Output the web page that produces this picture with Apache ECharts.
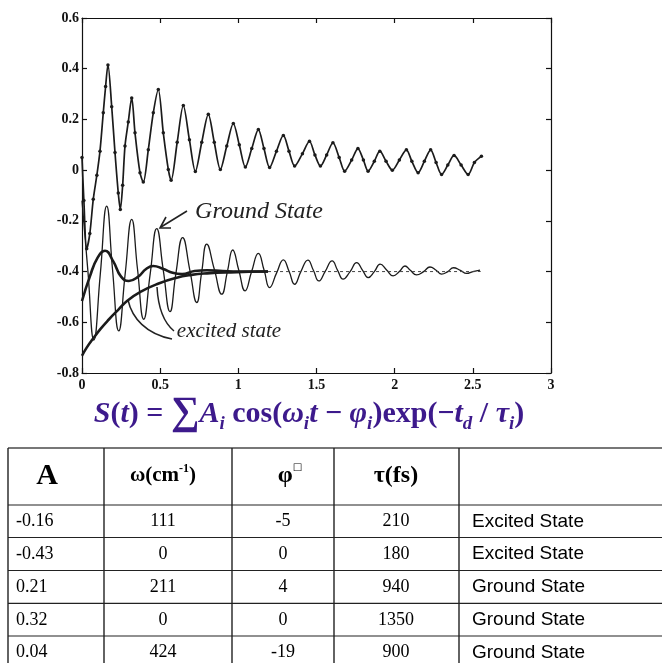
<!DOCTYPE html>
<html><head><meta charset="utf-8">
<script src="https://cdn.jsdelivr.net/npm/echarts@6/dist/echarts.min.js"></script>
<style>html,body{margin:0;padding:0;background:#fff}#c{width:662px;height:663px}</style>
</head><body><div id="c"></div>
<script>
// ---- tick labels ----
const xTickLabels = ['0', '0.5', '1', '1.5', '2', '2.5', '3'];
const yTickLabels = ['-0.8', '-0.6', '-0.4', '-0.2', '0', '0.2', '0.4', '0.6'];

// ---- measured signal (time in ps) ----
const measT = [0, 0.012, 0.03, 0.05, 0.072, 0.095, 0.115, 0.136, 0.151, 0.166,
  0.19, 0.211, 0.232, 0.245, 0.26, 0.275, 0.296, 0.318, 0.339, 0.371, 0.392,
  0.424, 0.456, 0.488, 0.52, 0.552, 0.57, 0.609, 0.648, 0.687, 0.725,
  0.766, 0.808, 0.846, 0.885, 0.926, 0.968, 1.006, 1.045, 1.086, 1.128,
  1.164, 1.2, 1.244, 1.288, 1.324, 1.36, 1.41, 1.455, 1.49, 1.525,
  1.565, 1.605, 1.645, 1.68, 1.725, 1.765, 1.8, 1.83, 1.87, 1.905,
  1.945, 1.985, 2.03, 2.075, 2.11, 2.15, 2.19, 2.23, 2.265, 2.3,
  2.34, 2.38, 2.425, 2.47, 2.51, 2.555];
const measY = [0.05, -0.12, -0.31, -0.25, -0.115, -0.02, 0.075, 0.226, 0.33, 0.415,
  0.25, 0.07, -0.09, -0.155, -0.06, 0.095, 0.19, 0.285, 0.147, -0.01, -0.047,
  0.08, 0.226, 0.318, 0.147, 0.003, -0.04, 0.11, 0.255, 0.12, -0.005,
  0.11, 0.22, 0.11, 0.003, 0.095, 0.184, 0.1, 0.012, 0.085, 0.16,
  0.085, 0.01, 0.075, 0.137, 0.075, 0.016, 0.065, 0.114, 0.06, 0.016,
  0.06, 0.108, 0.05, -0.004, 0.04, 0.085, 0.04, -0.004, 0.035, 0.075,
  0.035, 0.0, 0.04, 0.08, 0.035, -0.01, 0.035, 0.08, 0.03, -0.017,
  0.02, 0.058, 0.02, -0.017, 0.03, 0.055];

// ---- ground state fit component ----
const groundT = [0, 0.038, 0.076, 0.117, 0.158, 0.195, 0.235, 0.276, 0.318, 0.355,
  0.395, 0.436, 0.478, 0.52, 0.563, 0.6, 0.644, 0.69, 0.734, 0.765,
  0.798, 0.846, 0.894, 0.93, 0.964, 1.003, 1.043, 1.085, 1.128, 1.165,
  1.2, 1.245, 1.288, 1.325, 1.36, 1.4, 1.445, 1.48, 1.515, 1.555,
  1.6, 1.635, 1.67, 1.715, 1.757, 1.795, 1.83, 1.87, 1.907, 1.95,
  1.99, 2.03, 2.066, 2.1, 2.14, 2.185, 2.226, 2.265, 2.3, 2.34,
  2.376, 2.42, 2.46, 2.5, 2.546];
const groundY = [-0.12, -0.4, -0.67, -0.41, -0.142, -0.39, -0.634, -0.41, -0.194, -0.39,
  -0.588, -0.41, -0.231, -0.395, -0.558, -0.41, -0.266, -0.395, -0.522, -0.405,
  -0.292, -0.39, -0.489, -0.4, -0.315, -0.395, -0.476, -0.4, -0.328, -0.395,
  -0.463, -0.405, -0.354, -0.4, -0.45, -0.4, -0.355, -0.395, -0.437, -0.4,
  -0.358, -0.395, -0.43, -0.4, -0.365, -0.395, -0.424, -0.4, -0.371, -0.395,
  -0.417, -0.4, -0.378, -0.395, -0.413, -0.4, -0.382, -0.395, -0.41, -0.4,
  -0.385, -0.395, -0.407, -0.4, -0.394];

// ---- excited state oscillating component ----
const excOscT = [0, 0.05, 0.1, 0.147, 0.2, 0.25, 0.3, 0.36, 0.41, 0.455, 0.52, 0.58, 0.64, 0.72, 0.8, 0.9, 1.0, 1.19];
const excOscY = [-0.516, -0.42, -0.345, -0.318, -0.36, -0.42, -0.437, -0.42, -0.39, -0.378, -0.39, -0.405, -0.41, -0.398, -0.395, -0.398, -0.4, -0.4];

// ---- excited state exponential component ----
const excExpT = [0, 0.03, 0.07, 0.12, 0.17, 0.23, 0.29, 0.38, 0.49, 0.6, 0.7, 0.8, 0.95, 1.19];
const excExpY = [-0.732, -0.7, -0.665, -0.625, -0.59, -0.552, -0.515, -0.478, -0.447, -0.425, -0.413, -0.407, -0.403, -0.4];

// ---- dashed baseline ----
const baseT = [1.19, 2.55];
const baseY = [-0.4, -0.4];

// ---- table ----
const tableHeaders = ['A', 'ω(cm-1)', 'φ□', 'τ(fs)', ''];
const colA = ['-0.16', '-0.43', '0.21', '0.32', '0.04'];
const colOmega = ['111', '0', '211', '0', '424'];
const colPhi = ['-5', '0', '4', '0', '-19'];
const colTau = ['210', '180', '940', '1350', '900'];
const colState = ['Excited State', 'Excited State', 'Ground State', 'Ground State', 'Ground State'];

const zip = (a, b) => a.map((v, i) => [v, b[i]]);
const INK = '#1b1b1b';
const PURPLE = '#3d1a8c';
const SERIF = '"Liberation Serif", "Times New Roman", serif';
const SANS = '"Liberation Sans", Arial, sans-serif';

const chart = echarts.init(document.getElementById('c'), null, {renderer: 'canvas'});

const axisCommon = {
  type: 'value',
  axisLine: {show: true, onZero: false, lineStyle: {color: '#111', width: 1.2}},
  axisTick: {show: true, inside: true, length: 5, lineStyle: {color: '#111', width: 1.2}},
  splitLine: {show: false}
};
const labelStyle = {color: '#111', fontFamily: SERIF, fontWeight: 'bold', fontSize: 14};

// ---- table graphics ----
const tblLeft = 8, tblRight = 700;
const colX = [8, 104, 232, 334, 459];
const rowY = [448, 505, 537.5, 570.5, 603.3, 636, 669];
const tableEls = [];
tableEls.push({type: 'line', silent: true, shape: {x1: tblLeft, y1: rowY[0], x2: tblRight, y2: rowY[0]}, style: {stroke: '#777', lineWidth: 2}});
for (let r = 1; r < rowY.length; r++) {
  tableEls.push({type: 'line', silent: true, shape: {x1: tblLeft, y1: rowY[r], x2: tblRight, y2: rowY[r]}, style: {stroke: '#222', lineWidth: 1.2}});
}
colX.forEach(x => tableEls.push({type: 'line', silent: true, shape: {x1: x, y1: rowY[0], x2: x, y2: 663}, style: {stroke: '#222', lineWidth: 1.4}}));

const headerY = 476;
const hdrRich = {
  a: {fontFamily: SERIF, fontWeight: 'bold', fontSize: 30, fill: '#000', lineHeight: 30},
  h: {fontFamily: SERIF, fontWeight: 'bold', fontSize: 21, fill: '#000', lineHeight: 26},
  h2: {fontFamily: SERIF, fontWeight: 'bold', fontSize: 24, fill: '#000', lineHeight: 28},
  sup: {fontFamily: SERIF, fontWeight: 'bold', fontSize: 12, fill: '#000', lineHeight: 12, verticalAlign: 'top'},
  box: {fontFamily: 'DejaVu Sans', fontWeight: 'bold', fontSize: 10, fill: '#000', lineHeight: 10, verticalAlign: 'top'}
};
const hdrText = [];
hdrText[0] = '{a|' + tableHeaders[0] + '}';
const omegaParts = tableHeaders[1].split('-1');
hdrText[1] = '{h|' + omegaParts[0] + '}{sup|-1}{h|' + omegaParts[1] + '}';
hdrText[2] = '{h2|' + tableHeaders[2].slice(0, 1) + '}{box|' + tableHeaders[2].slice(1) + '}';
hdrText[3] = '{h2|' + tableHeaders[3] + '}';
const hdrX = [47, 163, 290, 396];
hdrText.forEach((t, i) => {
  tableEls.push({type: 'text', silent: true, style: {text: t, x: hdrX[i], y: headerY, align: 'center', verticalAlign: 'middle', rich: hdrRich}});
});
const rowMid = [521.5, 554, 587, 620, 652.5];
const cellFont = {fontFamily: SERIF, fontSize: 18, fill: '#000'};
for (let r = 0; r < colA.length; r++) {
  const y = rowMid[r];
  tableEls.push({type: 'text', silent: true, style: Object.assign({text: colA[r], x: 16, y, align: 'left', verticalAlign: 'middle'}, cellFont)});
  tableEls.push({type: 'text', silent: true, style: Object.assign({text: colOmega[r], x: 163, y, align: 'center', verticalAlign: 'middle'}, cellFont)});
  tableEls.push({type: 'text', silent: true, style: Object.assign({text: colPhi[r], x: 283, y, align: 'center', verticalAlign: 'middle'}, cellFont)});
  tableEls.push({type: 'text', silent: true, style: Object.assign({text: colTau[r], x: 396, y, align: 'center', verticalAlign: 'middle'}, cellFont)});
  tableEls.push({type: 'text', silent: true, style: {text: colState[r], x: 472, y, align: 'left', verticalAlign: 'middle', fontFamily: SANS, fontSize: 19, fill: '#000'}});
}

// ---- formula ----
const fBase = {fontFamily: SERIF, fontSize: 30, fontWeight: 'bold', fill: PURPLE, lineHeight: 40};
const formulaRich = {
  it: Object.assign({}, fBase, {fontStyle: 'italic'}),
  up: Object.assign({}, fBase),
  sum: Object.assign({}, fBase, {fontSize: 40}),
  sub: Object.assign({}, fBase, {fontStyle: 'italic', fontSize: 19, lineHeight: 23, verticalAlign: 'bottom'}),
  subd: Object.assign({}, fBase, {fontStyle: 'italic', fontSize: 19, lineHeight: 18, verticalAlign: 'bottom'})
};
const formulaText = '{it|S}{up|(}{it|t}{up|) = }{sum|∑}{it|A}{sub|i}{up| cos(}{it|ω}{sub|i}{it|t}{up| − }{it|φ}{sub|i}{up|)exp(−}{it|t}{subd|d}{up| / }{it|τ}{sub|i}{up|)}';

// ---- hand annotations ----
const noteEls = [
  {type: 'text', silent: true, style: {text: 'Ground State', x: 259, y: 212, align: 'center', verticalAlign: 'middle', fontFamily: SERIF, fontStyle: 'italic', fontSize: 24, fill: '#222'}},
  {type: 'polyline', silent: true, shape: {points: [[187, 211], [161, 227]]}, style: {stroke: '#222', lineWidth: 1.6, fill: null}},
  {type: 'polyline', silent: true, shape: {points: [[166, 217], [160, 228], [171, 228]]}, style: {stroke: '#222', lineWidth: 1.6, fill: null}},
  {type: 'text', silent: true, style: {text: 'excited state', x: 229, y: 331, align: 'center', verticalAlign: 'middle', fontFamily: SERIF, fontStyle: 'italic', fontSize: 21, fill: '#222'}},
  {type: 'bezierCurve', silent: true, shape: {x1: 172, y1: 339, cpx1: 146, cpy1: 334, cpx2: 132, cpy2: 318, x2: 128, y2: 300}, style: {stroke: '#222', lineWidth: 1.5, fill: null}},
  {type: 'bezierCurve', silent: true, shape: {x1: 174, y1: 331, cpx1: 163, cpy1: 322, cpx2: 158, cpy2: 305, x2: 157, y2: 287}, style: {stroke: '#222', lineWidth: 1.5, fill: null}}
];

const option = {
  animation: false,
  backgroundColor: '#fff',
  grid: {left: 82, top: 18, width: 469, height: 355, containLabel: false},
  xAxis: [
    Object.assign({}, axisCommon, {min: 0, max: 3, interval: 0.5, position: 'bottom',
      axisLabel: Object.assign({}, labelStyle, {margin: 5, formatter: v => xTickLabels[Math.round(v / 0.5)]})}),
    Object.assign({}, axisCommon, {min: 0, max: 3, interval: 0.5, position: 'top', axisLabel: {show: false}})
  ],
  yAxis: [
    Object.assign({}, axisCommon, {min: -0.8, max: 0.6, interval: 0.2, position: 'left',
      axisLabel: Object.assign({}, labelStyle, {margin: 3, formatter: v => yTickLabels[Math.round((v + 0.8) / 0.2)]})}),
    Object.assign({}, axisCommon, {min: -0.8, max: 0.6, interval: 0.2, position: 'right', axisLabel: {show: false}})
  ],
  series: [
    {name: 'measured', type: 'line', xAxisIndex: 0, yAxisIndex: 0, data: zip(measT, measY), smooth: 0.3,
      symbol: 'circle', symbolSize: 3.5, showSymbol: true, lineStyle: {color: INK, width: 1.7}, itemStyle: {color: INK}, silent: true},
    {name: 'ground', type: 'line', xAxisIndex: 0, yAxisIndex: 0, data: zip(groundT, groundY), smooth: 0.5,
      showSymbol: false, lineStyle: {color: INK, width: 1.3}, silent: true},
    {name: 'excitedOsc', type: 'line', xAxisIndex: 0, yAxisIndex: 0, data: zip(excOscT, excOscY), smooth: 0.5,
      showSymbol: false, lineStyle: {color: INK, width: 2.6}, silent: true},
    {name: 'excitedExp', type: 'line', xAxisIndex: 0, yAxisIndex: 0, data: zip(excExpT, excExpY), smooth: 0.5,
      showSymbol: false, lineStyle: {color: INK, width: 2.6}, silent: true},
    {name: 'baseline', type: 'line', xAxisIndex: 0, yAxisIndex: 0, data: zip(baseT, baseY),
      showSymbol: false, lineStyle: {color: '#444', width: 1, type: [3, 3]}, silent: true}
  ],
  graphic: [
    {type: 'text', silent: true, style: {text: formulaText, x: 309, y: 414, align: 'center', verticalAlign: 'middle', rich: formulaRich}}
  ].concat(noteEls, tableEls)
};
chart.setOption(option);
</script>
</body></html>
